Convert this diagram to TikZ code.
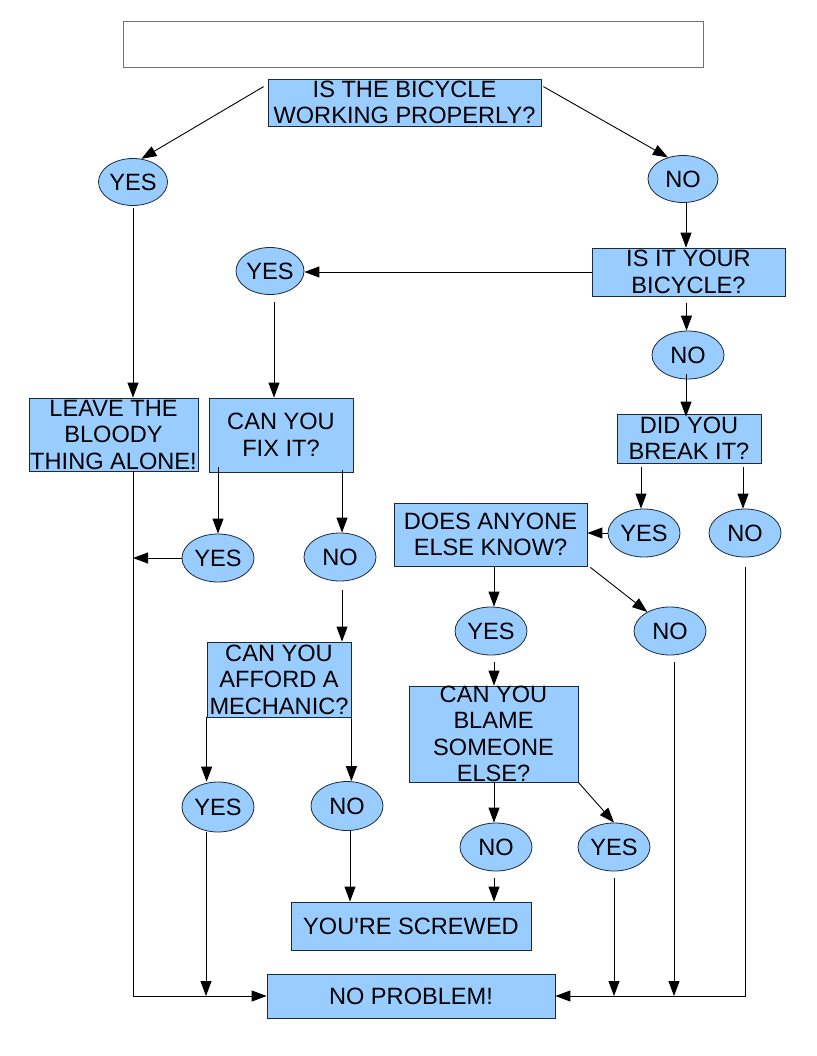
\documentclass[tikz,border=0pt]{standalone}
\usepackage{fontspec}
\setmainfont{Liberation Sans}
\usetikzlibrary{arrows.meta,shapes.geometric}
\definecolor{qfill}{HTML}{99CCFF}
\definecolor{qline}{HTML}{1C2B3A}

\begin{document}
\begin{tikzpicture}[x=1pt,y=-1pt, every node/.style={align=center,font=\fontsize{23.6}{26.5}\selectfont},
 box/.style={draw=qline,fill=qfill,inner sep=0pt,line width=0.8pt},
 word/.style={inner sep=0pt},
 ans/.style={ellipse,draw=qline,fill=qfill,inner sep=0pt,minimum width=72,minimum height=48,line width=0.8pt},
 link/.style={-{Triangle[length=15pt,width=11pt]},line width=0.9pt}]
\useasboundingbox (0,0) rectangle (816,1056);
\node[box,minimum width=580,minimum height=46,fill=white,draw=black!55] (title) at (413,44) {};
\node[box,minimum width=273,minimum height=47,label={[word]center:{IS THE BICYCLE\\WORKING PROPERLY?}}] (q1) at (404.5,102.5) {};
\node[ans,minimum width=69,minimum height=47] (y1) at (133,182) {YES};
\node[ans,minimum width=70,minimum height=47] (n1) at (683,179) {NO};
\node[box,minimum width=193,minimum height=48,label={[word]center:{IS IT YOUR\\BICYCLE?}}] (mine) at (688.5,272) {};
\node[ans,minimum width=68,minimum height=47] (y2) at (270,271) {YES};
\node[ans] (n2) at (688,355) {NO};
\node[box,minimum width=169,minimum height=73,label={[word]center:{LEAVE THE\\BLOODY\\THING ALONE!}}] (leave) at (113.5,434.5) {};
\node[box,minimum width=144,minimum height=74,label={[word]center:{CAN YOU\\FIX IT?}}] (fix) at (281,435) {};
\node[box,minimum width=144,minimum height=49,label={[word]center:{DID YOU\\BREAK IT?}}] (broke) at (689,438.5) {};
\node[ans] (y3) at (218,558) {YES};
\node[ans] (n3) at (340,557) {NO};
\node[ans] (y4) at (644,533) {YES};
\node[ans] (n4) at (745,533) {NO};
\node[box,minimum width=193,minimum height=63,label={[word]center:{DOES ANYONE\\ELSE KNOW?}}] (know) at (490.5,534.5) {};
\node[ans] (y5) at (491,631) {YES};
\node[ans] (n5) at (670,631) {NO};
\node[box,minimum width=144,minimum height=75,label={[word]center:{CAN YOU\\AFFORD A\\MECHANIC?}}] (afford) at (279,679.5) {};
\node[box,minimum width=169,minimum height=96,label={[word]center:{CAN YOU\\BLAME\\SOMEONE\\ELSE?}}] (blame) at (493.5,734) {};
\node[ans,minimum height=50] (y6) at (218,807) {YES};
\node[ans,minimum height=49] (n6) at (347,806) {NO};
\node[ans] (n7) at (496,847) {NO};
\node[ans] (y7) at (614,847) {YES};
\node[box,minimum width=240,minimum height=48] (screwed) at (411,926) {YOU\textquotesingle RE SCREWED};
\node[box,minimum width=288,minimum height=44] (fine) at (411,996) {NO PROBLEM!};
\draw[link] ([xshift=-4pt,yshift=-8pt]q1.north west) -- (y1.70);
\draw[link] ([xshift=2pt,yshift=-8pt]q1.north east) -- (n1.125);
\draw[link] ([xshift=3pt]n1.south) -- ([xshift=3pt]n1.south |- mine.north);
\draw[link] (mine.west) -- (mine.west -| y2.east);
\draw[link] ([xshift=4pt,yshift=-7pt]y2.south) -- ([xshift=4pt]y2.south |- fix.north);
\draw[link] ([yshift=-2pt]y1.south) -- (y1.south |- leave.north);
\draw[link] ([xshift=-2pt,yshift=-7pt]mine.south) -- ([xshift=-2pt]mine.south |- n2.north);
\draw[link] ([xshift=-2pt,yshift=5pt]n2.south) -- ([xshift=-2pt,yshift=-3pt]n2.south |- broke.north);
\draw[link] ([yshift=5pt]y3.north |- fix.south) -- (y3.north);
\draw[link] ([xshift=2pt,yshift=2pt]n3.north |- fix.south) -- ([xshift=2pt]n3.north);
\draw[link] (y3.west) -- (y3.west -| y1.south);
\draw[link] (leave.south -| y1.south) |- (fine.west);
\draw[link] ([xshift=2pt,yshift=-9pt]n3.south) -- ([xshift=2pt]n3.south |- afford.north);
\draw[link] (afford.south west) -- (afford.south west |- y6.north);
\draw[link] (afford.south east) -- (afford.south east |- n6.north);
\draw[link] ([xshift=-12pt]y6.south) -- ([xshift=-12pt]y6.south |- fine.west);
\draw[link] ([xshift=3pt]n6.south) -- ([xshift=3pt]n6.south |- screwed.north);
\draw[link] ([xshift=-3pt,yshift=-4pt]y4.north |- broke.south) -- ([xshift=-3pt]y4.north);
\draw[link] ([xshift=-2pt,yshift=-4pt]n4.north |- broke.south) -- ([xshift=-2pt]n4.north);
\draw[link] (y4.west) -- (y4.west -| know.east);
\draw[link] ([xshift=3pt]y5.north |- know.south) -- ([xshift=3pt]y5.north);
\draw[link] ([xshift=3pt,yshift=-1pt]know.south east) -- (n5.140);
\draw[link] ([xshift=3pt,yshift=-7pt]y5.south) -- ([xshift=3pt]y5.south |- blame.north);
\draw[link] ([xshift=-2pt]n7.north |- blame.south) -- ([xshift=-2pt]n7.north);
\draw[link] (blame.south east) -- (y7.north);
\draw[link] ([xshift=-2pt,yshift=-7pt]n7.south) -- ([xshift=-2pt]n7.south |- screwed.north);
\draw[link] ([yshift=-7pt]y7.south) -- (y7.south |- fine.east);
\draw[link] ([xshift=4pt,yshift=-7pt]n5.south) -- ([xshift=4pt]n5.south |- fine.east);
\draw[link] ([yshift=-10pt]n4.south) |- (fine.east);
\end{tikzpicture}
\end{document}
